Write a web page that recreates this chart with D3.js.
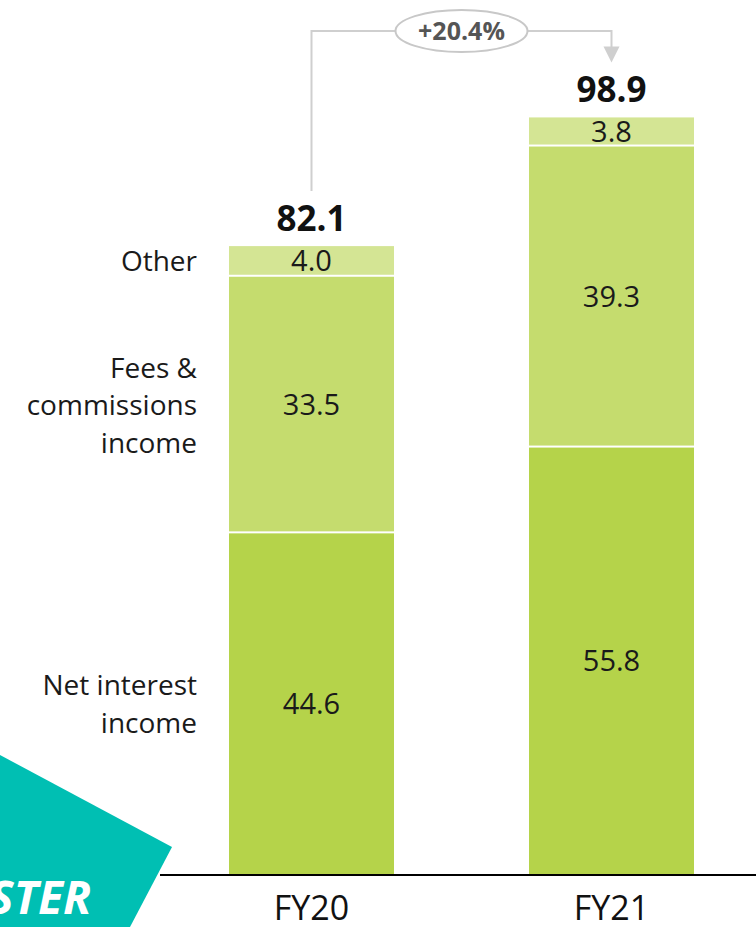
<!DOCTYPE html>
<html><head><meta charset="utf-8">
<script src="https://cdn.jsdelivr.net/npm/d3@7"></script>
<style>html,body{margin:0;padding:0;background:#fff;}svg{display:block;}</style>
</head><body>
<script>
const categories = ["FY20", "FY21"];
const seriesNames = ["Net interest income", "Fees & commissions income", "Other"];
const netInterest = [44.6, 55.8];
const fees = [33.5, 39.3];
const other = [4.0, 3.8];
const totals = [82.1, 98.9];
const growthLabel = "+20.4%";
const legendLines = [["Net interest", "income"], ["Fees &", "commissions", "income"], ["Other"]];
const colors = ["#b5d34a", "#c5dc6e", "#d4e594"];

const W = 756, H = 927;
const font = "'Open Sans', sans-serif";
const svg = d3.select("body").append("svg").attr("width", W).attr("height", H);

const x = d3.scaleBand().domain(categories).range([161.5, 761.5]).paddingInner(0.45).paddingOuter(0.225);
const y = d3.scaleLinear().domain([0, 100]).range([875, 109]);

// teal decoration
svg.append("path").attr("d", "M0,755 L172,847 L130,927 L0,927 Z").attr("fill", "#00bfb3");
svg.append("text").attr("x", 91).attr("y", 914).attr("text-anchor", "end")
  .attr("font-family", font).attr("font-weight", 700).attr("font-style", "italic")
  .attr("font-size", 46).attr("fill", "#fff").text("STER");

const seriesVals = [netInterest, fees, other];
const stackData = categories.map((c, i) => ({cat: c, v0: netInterest[i], v1: fees[i], v2: other[i]}));
const stack = d3.stack().keys(["v0", "v1", "v2"])(stackData);

stack.forEach((layer, si) => {
  svg.append("g").selectAll("rect").data(layer).join("rect")
    .attr("x", d => x(d.data.cat))
    .attr("width", x.bandwidth())
    .attr("y", d => y(d[1]))
    .attr("height", d => Math.max(0, y(d[0]) - y(d[1]) - (si > 0 ? 2 : 0)))
    .attr("fill", colors[si]);
  svg.append("g").selectAll("text").data(layer).join("text")
    .attr("x", d => x(d.data.cat) + x.bandwidth() / 2)
    .attr("y", d => (y(d[0]) + y(d[1])) / 2 + 10)
    .attr("text-anchor", "middle").attr("font-family", font).attr("font-size", 29)
    .attr("fill", "#1a1a1a")
    .text((d, i) => seriesVals[si][i].toFixed(1));
});

// totals
svg.append("g").selectAll("text").data(categories).join("text")
  .attr("x", c => x(c) + x.bandwidth() / 2)
  .attr("y", (c, i) => y(totals[i]) - 15)
  .attr("text-anchor", "middle").attr("font-family", font).attr("font-weight", 700)
  .attr("font-size", 35).attr("fill", "#111").text((c, i) => totals[i].toFixed(1));

// axis
svg.append("line").attr("x1", 160).attr("x2", W).attr("y1", 875).attr("y2", 875)
  .attr("stroke", "#000").attr("stroke-width", 2);
svg.append("g").selectAll("text").data(categories).join("text")
  .attr("x", c => x(c) + x.bandwidth() / 2).attr("y", 920)
  .attr("text-anchor", "middle").attr("font-family", font).attr("font-size", 34)
  .attr("fill", "#111").text(c => c);

// legend labels on left
const cat0 = 0;
legendLines.forEach((lines, si) => {
  const s = stack[si][cat0];
  const cy = (y(s[0]) + y(s[1])) / 2;
  const lh = 37.5;
  const t = svg.append("text").attr("text-anchor", "end").attr("font-family", font)
    .attr("font-size", 28).attr("fill", "#1a1a1a");
  lines.forEach((ln, li) => {
    t.append("tspan").attr("x", 197)
      .attr("y", cy + (li - (lines.length - 1) / 2) * lh + 10).text(ln);
  });
});

// growth connector
const cx0 = x(categories[0]) + x.bandwidth() / 2;
const cx1 = x(categories[1]) + x.bandwidth() / 2;
const topY = 31;
svg.append("path")
  .attr("d", `M${cx0},${y(totals[0]) - 55} L${cx0},${topY} L${cx1},${topY} L${cx1},${y(totals[1]) - 70}`)
  .attr("fill", "none").attr("stroke", "#cfcfcf").attr("stroke-width", 2);
svg.append("path")
  .attr("d", `M${cx1 - 8},${y(totals[1]) - 71} L${cx1 + 8},${y(totals[1]) - 71} L${cx1},${y(totals[1]) - 55} Z`)
  .attr("fill", "#cfcfcf");
const ex = (cx0 + cx1) / 2;
svg.append("ellipse").attr("cx", ex).attr("cy", topY).attr("rx", 66).attr("ry", 21)
  .attr("fill", "#fff").attr("stroke", "#c8c8c8").attr("stroke-width", 2);
svg.append("text").attr("x", ex).attr("y", topY + 9).attr("text-anchor", "middle")
  .attr("font-family", font).attr("font-weight", 700).attr("font-size", 25)
  .attr("fill", "#555").text(growthLabel);
</script>
</body></html>
